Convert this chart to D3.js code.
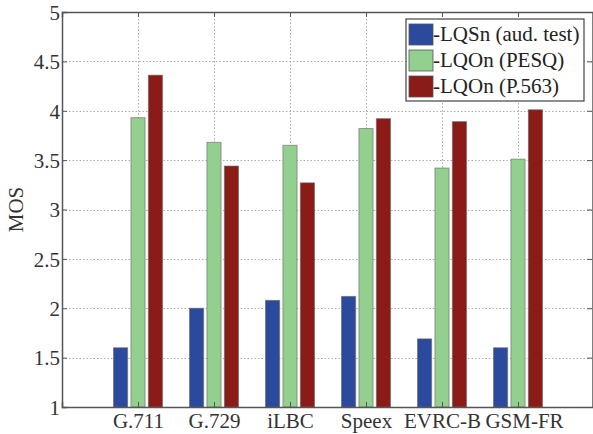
<!DOCTYPE html>
<html>
<head>
<meta charset="utf-8">
<script src="https://cdn.jsdelivr.net/npm/d3@7"></script>
<style>
    body { margin: 0; background: #fff; }
    svg { display: block; }
    svg text { font-family: "Liberation Serif", "Times New Roman", "DejaVu Serif", serif !important; }
</style>
</head>
<body>
<svg id="chart" width="593" height="434"></svg>
<script>
const codecs = ["G.711", "G.729", "iLBC", "Speex", "EVRC-B", "GSM-FR"];
const seriesNames = ["-LQSn (aud. test)", "-LQOn (PESQ)", "-LQOn (P.563)"];
const lqsnAudTest = [1.60, 2.00, 2.08, 2.12, 1.69, 1.60];
const lqonPesq = [3.93, 3.68, 3.65, 3.82, 3.42, 3.51];
const lqonP563 = [4.36, 3.44, 3.27, 3.92, 3.89, 4.01];
const yTicks = [1, 1.5, 2, 2.5, 3, 3.5, 4, 4.5, 5];

const colors = ["#2b4a9e", "#93d08f", "#8a1b17"];
const seriesValues = [lqsnAudTest, lqonPesq, lqonP563];

const margin = { left: 62, top: 12, right: 594, bottom: 407 };
const fontSize = 21;

const svg = d3.select("#chart");

const x = d3.scaleLinear().domain([0, codecs.length + 1]).range([margin.left, margin.right]);
const y = d3.scaleLinear().domain([1, 5]).range([margin.bottom, margin.top]);
const inner = d3.scaleBand().domain(d3.range(seriesNames.length))
    .range([-24.5, 24.5]).paddingInner(0.19);

const catX = (i) => x(i + 1);

// grid
const grid = svg.append("g")
    .attr("stroke", "#aaa")
    .attr("stroke-width", 1)
    .attr("stroke-dasharray", "1.5,2");

grid.selectAll("line.h")
    .data(yTicks.slice(1, -1))
    .join("line")
    .attr("x1", margin.left).attr("x2", margin.right)
    .attr("y1", d => Math.round(y(d)) + 0.5).attr("y2", d => Math.round(y(d)) + 0.5);

grid.selectAll("line.v")
    .data(codecs)
    .join("line")
    .attr("x1", (d, i) => Math.round(catX(i)) + 0.5).attr("x2", (d, i) => Math.round(catX(i)) + 0.5)
    .attr("y1", margin.top).attr("y2", margin.bottom);

// bars
const bars = [];
codecs.forEach((c, i) => {
    seriesValues.forEach((vals, s) => {
        bars.push({ codec: i, series: s, value: vals[i] });
    });
});

svg.append("g")
    .selectAll("rect")
    .data(bars)
    .join("rect")
    .attr("x", d => catX(d.codec) + inner(d.series))
    .attr("width", inner.bandwidth())
    .attr("y", d => y(d.value))
    .attr("height", d => y(1) - y(d.value))
    .attr("fill", d => colors[d.series])
    .attr("stroke", "#666")
    .attr("stroke-opacity", 0.6)
    .attr("stroke-width", 1);

// axes
const axisColor = "#555";

const yAxis = svg.append("g")
    .attr("transform", `translate(${margin.left},0)`)
    .call(d3.axisLeft(y).tickValues(yTicks).tickSize(-5).tickPadding(2).tickFormat(d3.format("")));

const yAxisRight = svg.append("g")
    .attr("transform", `translate(${margin.right - 2},0)`)
    .call(d3.axisRight(y).tickValues(yTicks).tickSize(-5).tickFormat(""));

const xAxis = svg.append("g")
    .attr("transform", `translate(0,${margin.bottom})`)
    .call(d3.axisBottom(x).tickValues(d3.range(1, codecs.length + 1)).tickSize(-5).tickPadding(6)
        .tickFormat(d => codecs[d - 1]));

const xAxisTop = svg.append("g")
    .attr("transform", `translate(0,${margin.top})`)
    .call(d3.axisTop(x).tickValues(d3.range(1, codecs.length + 1)).tickSize(-5).tickFormat(""));

[yAxis, yAxisRight, xAxis, xAxisTop].forEach(a => {
    a.attr("font-family", null).attr("font-size", null);
    a.select(".domain").attr("stroke", axisColor).attr("stroke-width", 1.5);
    a.selectAll(".tick line").attr("stroke", axisColor);
    a.selectAll(".tick text")
        .attr("fill", "#333")
        .style("font-size", fontSize + "px");
});
yAxis.selectAll(".tick text").attr("dy", "0.35em");
// last label sits a little right of its tick in the original
xAxis.selectAll(".tick text").filter(d => d === codecs.length).attr("dx", 6);
yAxisRight.select(".domain").remove();
svg.append("line")
    .attr("x1", margin.right - 1).attr("x2", margin.right - 1)
    .attr("y1", margin.top).attr("y2", margin.bottom)
    .attr("stroke", axisColor).attr("stroke-width", 1.5);

// y label
svg.append("text")
    .attr("transform", `translate(23,${(margin.top + margin.bottom) / 2}) rotate(-90)`)
    .attr("text-anchor", "middle")
    .attr("fill", "#333")
    .style("font-size", fontSize + "px")
    .text("MOS");

// legend
const legend = svg.append("g").attr("transform", "translate(406,19)");
legend.append("rect")
    .attr("width", 178).attr("height", 82)
    .attr("fill", "#fff")
    .attr("stroke", "#444").attr("stroke-width", 1.2);

const item = legend.selectAll("g.item")
    .data(seriesNames)
    .join("g")
    .attr("transform", (d, i) => `translate(3,${5 + i * 26})`);

item.append("rect")
    .attr("width", 24).attr("height", 21)
    .attr("fill", (d, i) => colors[i])
    .attr("stroke", "#555").attr("stroke-width", 0.8);

item.append("text")
    .attr("x", 24).attr("y", 17)
    .attr("fill", "#222")
    .style("font-size", fontSize + "px")
    .text(d => d);
</script>
</body>
</html>
